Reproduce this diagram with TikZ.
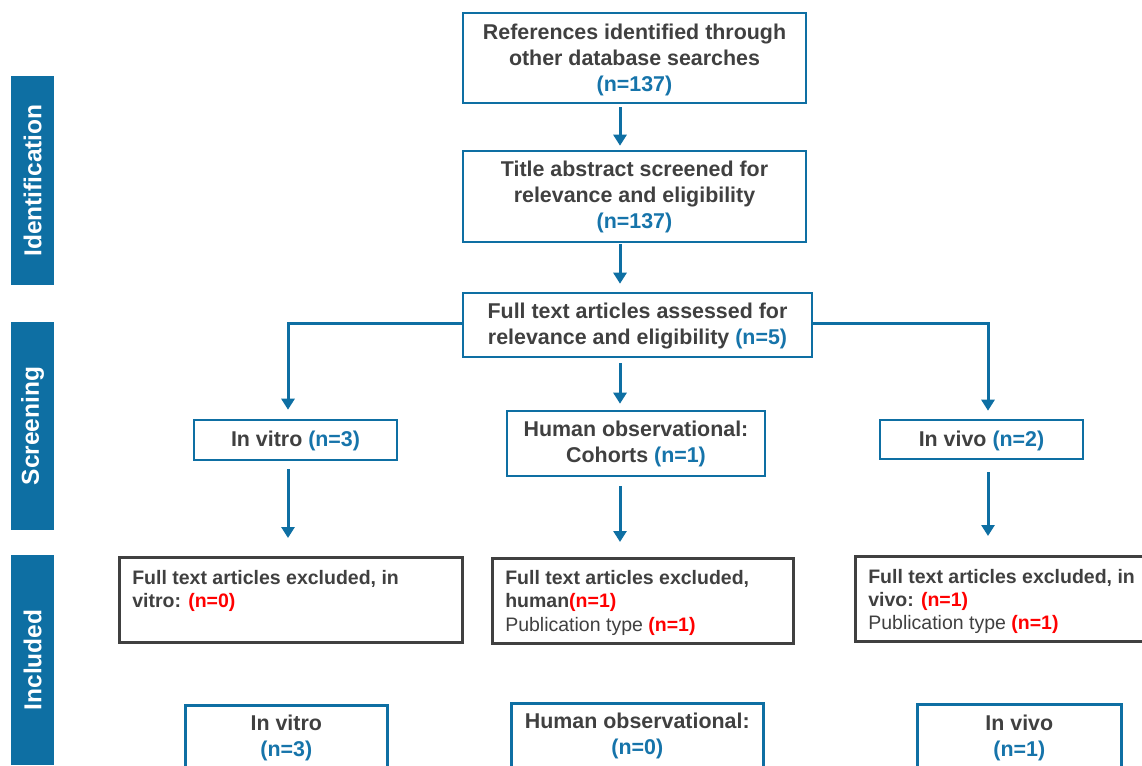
\documentclass[tikz,border=0pt]{standalone}
\usepackage{fontspec}
\setmainfont{Liberation Sans}
\usetikzlibrary{arrows.meta}
\definecolor{pblue}{HTML}{0E6FA3}
\definecolor{nblue}{HTML}{1674AA}
\definecolor{tgray}{HTML}{404040}
\definecolor{bgray}{HTML}{404040}
\definecolor{nred}{HTML}{FF0000}
\newcommand{\nb}[1]{\textcolor{nblue}{#1}}
\newcommand{\nr}[1]{\textcolor{nred}{#1}}
\newcommand{\topbox}[4]{\parbox[c][#2pt][t]{#1pt}{\vspace*{#3pt}#4}}
\begin{document}
\begin{tikzpicture}[x=1pt,y=-1pt,
  bluebox/.style={draw=pblue, line width=2.6pt, align=center, inner sep=0pt, text=tgray,
    font=\fontsize{21.4}{25.8}\selectfont\bfseries},
  graybox/.style={draw=bgray, line width=2.6pt, inner sep=0pt, text=tgray,
    font=\fontsize{19.5}{23.5}\selectfont\bfseries, anchor=north west},
  sidebar/.style={fill=pblue, text=white, inner sep=0pt, minimum width=43pt,
    font=\fontsize{24.5}{28}\selectfont\bfseries},
  conn/.style={draw=pblue, line width=3pt, -{Triangle[width=13pt,length=11pt]}}
]
\useasboundingbox (0,0) rectangle (1142,765);
\clip (0,0) rectangle (1142,765);
\fill[white] (0,0) rectangle (1142,765);

% side bars
\node[sidebar, minimum height=209pt] (sid) at (32.5,180.5) {\rotatebox{90}{Identification}};
\node[sidebar, minimum height=208pt] (sscr) at (32.5,426) {\rotatebox{90}{Screening}};
\node[sidebar, minimum height=210pt] (sinc) at (32.5,660) {\rotatebox{90}{Included}};

% main column
\node[bluebox, minimum width=343pt, minimum height=90pt] (b1) at (634.5,58)
  {\topbox{335}{90}{10.9}{\centering References identified through\\other database searches\\\nb{(n=137)}}};
\node[bluebox, minimum width=343pt, minimum height=91pt] (b2) at (634.5,196.5)
  {\topbox{335}{91}{9.9}{\centering Title abstract screened for\\relevance and eligibility\\\nb{(n=137)}}};
\node[bluebox, minimum width=349pt, minimum height=64pt] (b3) at (637.5,325)
  {\topbox{340}{64}{9.9}{\centering Full text articles assessed for\\relevance and eligibility \nb{(n=5)}}};

% second row
\node[bluebox, minimum width=203pt, minimum height=40pt] (vitro) at (295.5,440)
  {\topbox{195}{40}{10.9}{\centering In vitro \nb{(n=3)}}};
\node[bluebox, minimum width=258pt, minimum height=65pt] (human) at (636,443.5)
  {\topbox{250}{65}{9.9}{\centering Human observational:\\Cohorts \nb{(n=1)}}};
\node[bluebox, minimum width=203pt, minimum height=39pt] (vivo) at (981.5,439.5)
  {\topbox{195}{39}{10.9}{\centering In vivo \nb{(n=2)}}};

% excluded row
\node[graybox, minimum width=343pt, minimum height=85pt] (exl) at (118,556)
  {\topbox{317}{82}{11.5}{\raggedright Full text articles excluded, in\\vitro: \nr{(n=0)}}};
\node[graybox, minimum width=301pt, minimum height=85pt] (exm) at (491,557)
  {\topbox{275}{82}{10.5}{\raggedright Full text articles excluded,\\human\nr{(n=1)}\\{\mdseries Publication type} \nr{(n=1)}}};
\node[graybox, minimum width=330pt, minimum height=85pt] (exr) at (854,555)
  {\topbox{304}{82}{11.5}{\raggedright\baselineskip=23pt Full text articles excluded, in\\vivo: \nr{(n=1)}\\{\mdseries Publication type} \nr{(n=1)}}};

% included row
\node[bluebox, minimum width=202pt, minimum height=90pt, anchor=north west] (incl) at (184,704)
  {\topbox{190}{90}{10}{\centering In vitro\\\nb{(n=3)}}};
\node[bluebox, minimum width=252pt, minimum height=90pt, anchor=north west] (incm) at (510,702)
  {\topbox{240}{90}{10}{\centering Human observational:\\\nb{(n=0)}}};
\node[bluebox, minimum width=204pt, minimum height=90pt, anchor=north west] (incr) at (916,703)
  {\topbox{190}{90}{11}{\centering In vivo\\\nb{(n=1)}}};

% connectors
\draw[conn, shorten <=3pt, shorten >=4pt] (b1.south -| 620,0) -- (b2.north -| 620,0);
\draw[conn, shorten <=1pt, shorten >=8pt] (b2.south -| 620,0) -- (b3.north -| 620,0);
\draw[conn, shorten <=5pt, shorten >=6pt] (b3.south -| 620,0) -- (human.north -| 620,0);
\draw[conn, shorten >=9pt] (b3.west |- 0,323) -| (vitro.north -| 288,0);
\draw[conn, shorten >=8pt] (b3.east |- 0,323) -| (vivo.north -| 988,0);
\draw[conn, shorten <=8pt, shorten >=18pt] (vitro.south -| 288,0) -- (exl.north -| 288,0);
\draw[conn, shorten <=9pt, shorten >=15pt] (human.south -| 620,0) -- (exm.north -| 620,0);
\draw[conn, shorten <=12pt, shorten >=19pt] (vivo.south -| 988,0) -- (exr.north -| 988,0);
\end{tikzpicture}
\end{document}
